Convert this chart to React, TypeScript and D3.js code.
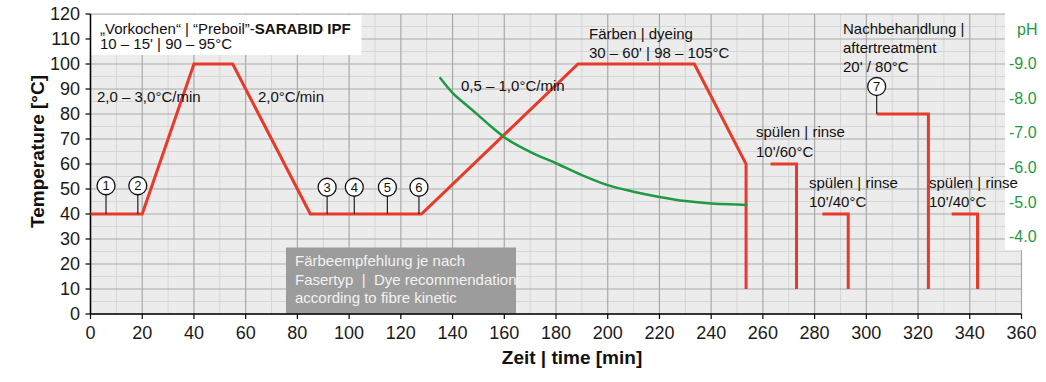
import React from "react";
import * as d3 from "d3";

// ---- data ----
const xTicks = d3.range(0, 361, 20);
const yTicks = d3.range(0, 121, 10);
const phTicks = [9, 8, 7, 6, 5, 4];

const tempTime = [0, 20, 40, 55, 85, 128, 188.5, 233.5, 253.5, 253.5];
const tempValue = [40, 40, 100, 100, 40, 40, 100, 100, 60, 10];

const stepStart = [263, 283, 304, 333];
const stepEnd = [273, 293, 324, 343];
const stepTemp = [60, 40, 80, 40];
const stepBottom = 10;

const phTime = [135, 140, 145, 150, 155, 160, 170, 180, 190, 200, 210, 220, 230, 240, 250, 254];
const phValue = [8.6, 8.15, 7.82, 7.5, 7.17, 6.87, 6.45, 6.12, 5.78, 5.49, 5.3, 5.15, 5.03, 4.96, 4.93, 4.92];

const markerLabel = ["1", "2", "3", "4", "5", "6", "7"];
const markerTime = [6, 18.3, 91.5, 102, 114.8, 127, 304];
const markerTemp = [51.3, 51.3, 50.7, 50.7, 50.7, 50.7, 91];
const markerBase = [40, 40, 40, 40, 40, 40, 80];

const RED = "#e83a2b";
const GREEN = "#1f9a42";
const FONT = "'Liberation Sans', Arial, Helvetica, sans-serif";

export default function App() {
  const W = 1046, H = 382;
  const x = d3.scaleLinear().domain([0, 360]).range([90.5, 1021.5]);
  const y = d3.scaleLinear().domain([0, 120]).range([314, 14]);
  const yPH = d3.scaleLinear().domain([4, 9]).range([236.8, 63.3]);

  const tempLine = d3.line<number>().x((d, i) => x(tempTime[i])).y((d) => y(d));
  const phLine = d3
    .line<number>()
    .x((d, i) => x(phTime[i]))
    .y((d) => yPH(d))
    .curve(d3.curveMonotoneX);

  const vGrid = d3.range(0, 361, 10);
  const hGrid = d3.range(0, 121, 5);

  const txt = { fontFamily: FONT, fontSize: 15, fill: "#111" } as const;
  const R = 9;

  return (
    <svg width={W} height={H} style={{ position: "absolute", left: 0, top: 0, background: "#fff" }}>
      <rect x={x(0)} y={y(120)} width={x(360) - x(0)} height={y(0) - y(120)} fill="#ececec" />
      {vGrid.filter((v) => v % 20 !== 0).map((v) => (
        <line key={"vm" + v} x1={x(v)} x2={x(v)} y1={y(120)} y2={y(0)} stroke="#d6d6d6" strokeWidth={1} />
      ))}
      {hGrid.filter((v) => v % 10 !== 0).map((v) => (
        <line key={"hm" + v} x1={x(0)} x2={x(360)} y1={y(v)} y2={y(v)} stroke="#d6d6d6" strokeWidth={1} />
      ))}
      {vGrid.filter((v) => v % 20 === 0).map((v) => (
        <line key={"vM" + v} x1={x(v)} x2={x(v)} y1={y(120)} y2={y(0)} stroke="#a9a9a9" strokeWidth={1.2} />
      ))}
      {hGrid.filter((v) => v % 10 === 0).map((v) => (
        <line key={"hM" + v} x1={x(0)} x2={x(360)} y1={y(v)} y2={y(v)} stroke="#a9a9a9" strokeWidth={1.2} />
      ))}

      {/* white boxes */}
      <rect x={x(0)} y={15} width={271} height={40} fill="#fff" />
      <rect x={1005} y={0} width={41} height={250} fill="#fff" />

      {/* grey recommendation box */}
      <rect x={286} y={247.5} width={230} height={y(0) - 247.5} fill="#9c9c9c" />
      <g style={{ fontFamily: FONT, fontSize: 15, fill: "#f2f2f2" }}>
        <text x={295} y={266}>Färbeempfehlung je nach</text>
        <text x={295} y={285} style={{ whiteSpace: "pre" }}>{"Fasertyp  |  Dye recommendation"}</text>
        <text x={295} y={303}>according to fibre kinetic</text>
      </g>

      {/* axes */}
      <line x1={x(0)} x2={x(0)} y1={y(120)} y2={y(0)} stroke="#000" strokeWidth={1.5} />
      <line x1={x(0)} x2={x(360)} y1={y(0)} y2={y(0)} stroke="#000" strokeWidth={1.5} />
      {yTicks.map((v) => (
        <g key={"yt" + v}>
          <line x1={x(0) - 5} x2={x(0)} y1={y(v)} y2={y(v)} stroke="#000" strokeWidth={1.2} />
          <text x={80} y={y(v)} dy="0.35em" textAnchor="end" style={{ fontFamily: FONT, fontSize: 18, fill: "#1a1a1a" }}>
            {v}
          </text>
        </g>
      ))}
      {xTicks.map((v) => (
        <g key={"xt" + v}>
          <line x1={x(v)} x2={x(v)} y1={y(0)} y2={y(0) + 5} stroke="#000" strokeWidth={1.2} />
          <text x={x(v)} y={339} textAnchor="middle" style={{ fontFamily: FONT, fontSize: 18, fill: "#1a1a1a" }}>
            {v}
          </text>
        </g>
      ))}
      {phTicks.map((v) => (
        <text key={"ph" + v} x={1009} y={yPH(v)} dy="0.35em" style={{ fontFamily: FONT, fontSize: 16, fill: GREEN }}>
          {"-" + v.toFixed(1)}
        </text>
      ))}
      <text x={1017} y={35} style={{ fontFamily: FONT, fontSize: 16, fill: GREEN }}>pH</text>

      <text
        transform={`translate(44,${y(65)}) rotate(-90)`}
        textAnchor="middle"
        style={{ fontFamily: FONT, fontSize: 19, fontWeight: "bold", fill: "#111" }}
      >
        Temperature [°C]
      </text>
      <text x={572} y={364} textAnchor="middle" style={{ fontFamily: FONT, fontSize: 19, fontWeight: "bold", fill: "#111" }}>
        Zeit | time [min]
      </text>

      {/* temperature profile */}
      <path d={tempLine(tempValue) || ""} fill="none" stroke={RED} strokeWidth={3} strokeLinejoin="miter" />
      {stepStart.map((s, i) => (
        <path
          key={"st" + i}
          d={`M${x(s)},${y(stepTemp[i])}H${x(stepEnd[i])}V${y(stepBottom)}`}
          fill="none"
          stroke={RED}
          strokeWidth={3}
        />
      ))}

      {/* pH curve */}
      <path d={phLine(phValue) || ""} fill="none" stroke={GREEN} strokeWidth={2.5} />

      {/* markers */}
      {markerLabel.map((m, i) => (
        <g key={"mk" + m}>
          <line
            x1={x(markerTime[i])}
            x2={x(markerTime[i])}
            y1={y(markerTemp[i]) + R}
            y2={y(markerBase[i])}
            stroke="#222"
            strokeWidth={1.2}
          />
          <circle cx={x(markerTime[i])} cy={y(markerTemp[i])} r={R} fill="#fff" stroke="#111" strokeWidth={1.3} />
          <text
            x={x(markerTime[i])}
            y={y(markerTemp[i])}
            dy="0.36em"
            textAnchor="middle"
            style={{ fontFamily: FONT, fontSize: 13, fill: "#111" }}
          >
            {m}
          </text>
        </g>
      ))}

      {/* annotations */}
      <text x={100} y={34} style={txt}>
        „Vorkochen“ | “Preboil”-<tspan fontWeight="bold">SARABID IPF</tspan>
      </text>
      <text x={100} y={49} style={txt}>10 – 15' | 90 – 95°C</text>
      <text x={97} y={102} style={txt}>2,0 – 3,0°C/min</text>
      <text x={258} y={102} style={txt}>2,0°C/min</text>
      <text x={461} y={91} style={txt}>0,5 – 1,0°C/min</text>
      <text x={589} y={39} style={txt}>Färben | dyeing</text>
      <text x={589} y={58} style={txt}>30 – 60' | 98 – 105°C</text>
      <text x={843} y={34} style={txt}>Nachbehandlung |</text>
      <text x={843} y={53} style={txt}>aftertreatment</text>
      <text x={843} y={72} style={txt}>20' / 80°C</text>
      <text x={756} y={137} style={txt}>spülen | rinse</text>
      <text x={756} y={157} style={txt}>10'/60°C</text>
      <text x={809} y={188} style={txt}>spülen | rinse</text>
      <text x={809} y={207} style={txt}>10'/40°C</text>
      <text x={929} y={188} style={txt}>spülen | rinse</text>
      <text x={929} y={207} style={txt}>10'/40°C</text>
    </svg>
  );
}
